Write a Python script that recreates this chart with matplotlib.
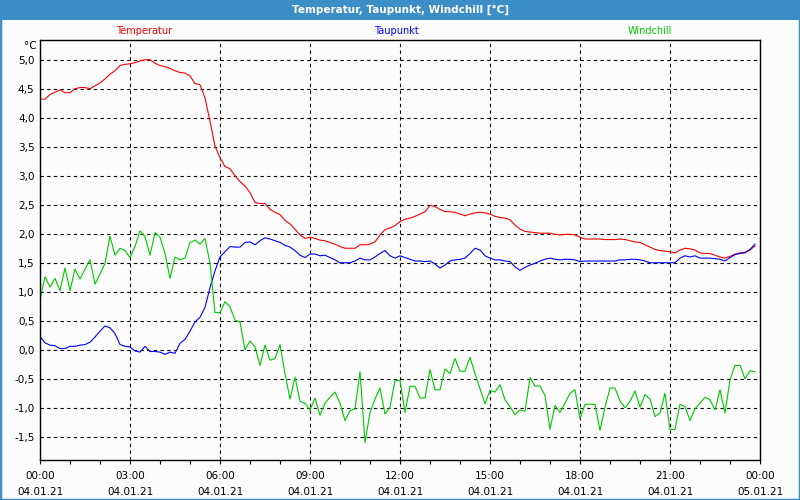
import numpy as np
import pandas as pd
import matplotlib
matplotlib.use("Agg")
import matplotlib.pyplot as plt
import matplotlib.dates as mdates
from matplotlib.patches import Rectangle

# 10-minute readings, 04.01.21 00:00 .. 23:50
times = pd.date_range("2021-01-04 00:00", periods=144, freq="10min")

temperatur = [
    4.33, 4.33, 4.41, 4.45, 4.49, 4.44, 4.44, 4.51, 4.53, 4.53,
    4.51, 4.56, 4.61, 4.68, 4.76, 4.82, 4.91, 4.93, 4.94, 4.96,
    4.99, 5.01, 5.01, 4.95, 4.91, 4.89, 4.86, 4.82, 4.79, 4.78,
    4.73, 4.60, 4.58, 4.35, 3.95, 3.52, 3.32, 3.17, 3.13, 3.01,
    2.91, 2.83, 2.72, 2.55, 2.53, 2.53, 2.43, 2.38, 2.34, 2.24,
    2.18, 2.09, 1.99, 1.93, 1.95, 1.93, 1.90, 1.89, 1.86, 1.83,
    1.79, 1.76, 1.76, 1.76, 1.82, 1.82, 1.83, 1.87, 1.99, 2.08,
    2.11, 2.15, 2.22, 2.26, 2.28, 2.31, 2.35, 2.39, 2.50, 2.48,
    2.43, 2.39, 2.39, 2.38, 2.35, 2.32, 2.35, 2.37, 2.38, 2.37,
    2.35, 2.31, 2.29, 2.28, 2.25, 2.16, 2.09, 2.05, 2.04, 2.03,
    2.02, 2.02, 2.02, 2.00, 1.99, 2.00, 2.00, 1.99, 1.95, 1.92,
    1.92, 1.92, 1.92, 1.91, 1.91, 1.91, 1.92, 1.91, 1.89, 1.87,
    1.86, 1.82, 1.78, 1.74, 1.72, 1.71, 1.70, 1.68, 1.73, 1.76,
    1.75, 1.73, 1.68, 1.67, 1.67, 1.64, 1.61, 1.59, 1.62, 1.66,
    1.68, 1.69, 1.73, 1.80,
]

taupunkt = [
    0.24, 0.13, 0.09, 0.08, 0.03, 0.03, 0.07, 0.07, 0.09, 0.10,
    0.14, 0.23, 0.33, 0.42, 0.39, 0.29, 0.10, 0.07, 0.06, -0.01,
    -0.03, 0.07, -0.02, -0.02, -0.03, -0.07, -0.03, -0.05, 0.12, 0.19,
    0.33, 0.49, 0.57, 0.74, 1.08, 1.37, 1.61, 1.70, 1.79, 1.78,
    1.78, 1.86, 1.87, 1.82, 1.89, 1.94, 1.92, 1.89, 1.86, 1.81,
    1.78, 1.72, 1.64, 1.60, 1.66, 1.66, 1.63, 1.64, 1.60, 1.56,
    1.51, 1.51, 1.51, 1.54, 1.59, 1.56, 1.56, 1.61, 1.67, 1.72,
    1.63, 1.59, 1.63, 1.60, 1.57, 1.54, 1.54, 1.53, 1.54, 1.49,
    1.42, 1.47, 1.54, 1.56, 1.57, 1.59, 1.67, 1.76, 1.73, 1.63,
    1.59, 1.56, 1.56, 1.54, 1.53, 1.44, 1.38, 1.43, 1.47, 1.50,
    1.54, 1.57, 1.59, 1.57, 1.56, 1.57, 1.57, 1.56, 1.53, 1.54,
    1.54, 1.54, 1.54, 1.54, 1.54, 1.54, 1.56, 1.56, 1.57, 1.57,
    1.56, 1.54, 1.51, 1.51, 1.51, 1.51, 1.51, 1.51, 1.59, 1.63,
    1.61, 1.63, 1.59, 1.59, 1.59, 1.58, 1.57, 1.54, 1.60, 1.65,
    1.67, 1.68, 1.74, 1.83,
]

windchill = [
    0.87, 1.27, 1.09, 1.24, 1.03, 1.42, 1.03, 1.40, 1.23, 1.40,
    1.56, 1.14, 1.32, 1.50, 1.97, 1.64, 1.76, 1.72, 1.60, 1.79,
    2.06, 1.96, 1.64, 2.03, 1.95, 1.67, 1.24, 1.61, 1.56, 1.59,
    1.86, 1.90, 1.83, 1.93, 1.50, 0.65, 0.65, 0.84, 0.75, 0.52,
    0.49, 0.01, 0.16, 0.06, -0.26, 0.09, -0.17, -0.14, 0.10, -0.40,
    -0.84, -0.46, -0.88, -0.91, -1.03, -0.82, -1.12, -0.91, -0.81, -0.72,
    -0.91, -1.21, -1.04, -1.01, -0.37, -1.59, -1.07, -0.84, -0.65, -1.10,
    -0.98, -0.52, -0.52, -1.07, -0.62, -0.62, -0.82, -0.82, -0.33, -0.68,
    -0.68, -0.32, -0.40, -0.14, -0.36, -0.36, -0.12, -0.40, -0.66, -0.92,
    -0.69, -0.72, -0.59, -0.85, -0.97, -1.11, -1.03, -1.05, -0.47, -0.62,
    -0.61, -0.78, -1.36, -0.95, -1.07, -0.91, -0.74, -0.68, -1.18, -0.93,
    -0.93, -0.93, -1.38, -0.98, -0.65, -0.65, -0.87, -0.99, -0.88, -0.70,
    -0.98, -0.76, -0.84, -1.14, -1.08, -0.74, -1.37, -1.36, -0.93, -0.97,
    -1.21, -1.01, -0.91, -0.81, -0.85, -1.03, -0.68, -1.08, -0.51, -0.26,
    -0.26, -0.49, -0.35, -0.37,
]

series_names = ["Temperatur", "Taupunkt", "Windchill"]
series_colors = ["#ff0000", "#0000ff", "#00c800"]
y_ticks = [-1.5, -1.0, -0.5, 0.0, 0.5, 1.0, 1.5, 2.0, 2.5, 3.0, 3.5, 4.0, 4.5, 5.0]

frame_blue = "#3c8fc6"

fig = plt.figure(figsize=(8, 5), dpi=100, facecolor="#fbfcfb")

# window frame and title bar
fig.patches.append(Rectangle((0, 0), 1, 1, transform=fig.transFigure,
                             fill=False, edgecolor=frame_blue, linewidth=2.5))
fig.patches.append(Rectangle((0, 0.96), 1, 0.04, transform=fig.transFigure,
                             facecolor=frame_blue, edgecolor="none"))
fig.text(0.5, 0.981, "Temperatur, Taupunkt, Windchill [°C]", ha="center", va="center",
         color="white", fontsize=7.5, fontweight="bold")

ax = fig.add_axes([0.05, 0.08, 0.90, 0.84])
ax.set_facecolor("#fbfcfb")

for vals, col in zip([temperatur, taupunkt, windchill], series_colors):
    ax.plot(times, vals, color=col, linewidth=0.8)

# series names above the plot
for name, col, xpos in zip(series_names, series_colors, [0.18, 0.496, 0.812]):
    fig.text(xpos, 0.938, name, ha="center", va="center", color=col, fontsize=7)

ax.set_xlim(pd.Timestamp("2021-01-04 00:00"), pd.Timestamp("2021-01-05 00:00"))
ax.set_ylim(-1.89, 5.35)

ax.set_yticks(y_ticks)
ax.set_yticklabels([f"{v:.1f}".replace(".", ",") for v in y_ticks])
ax.tick_params(axis="y", length=0, pad=4, labelsize=7.5)
ax.text(-0.005, 0.985, "°C", transform=ax.transAxes, ha="right", va="center", fontsize=7.5)

ax.xaxis.set_major_locator(mdates.HourLocator(byhour=range(0, 24, 3)))
ax.xaxis.set_minor_locator(mdates.HourLocator())
ax.xaxis.set_major_formatter(mdates.DateFormatter("%H:%M\n%d.%m.%y"))
ax.tick_params(axis="x", which="both", length=3, width=0.8, labelsize=7.5, pad=5)
for lbl in ax.get_xticklabels():
    lbl.set_linespacing(1.75)

ax.grid(True, which="major", color="black", linestyle=(0, (3, 3)), linewidth=0.8)
for sp in ax.spines.values():
    sp.set_linewidth(1.0)

fig.savefig("out.png", dpi=100, facecolor=fig.get_facecolor())
